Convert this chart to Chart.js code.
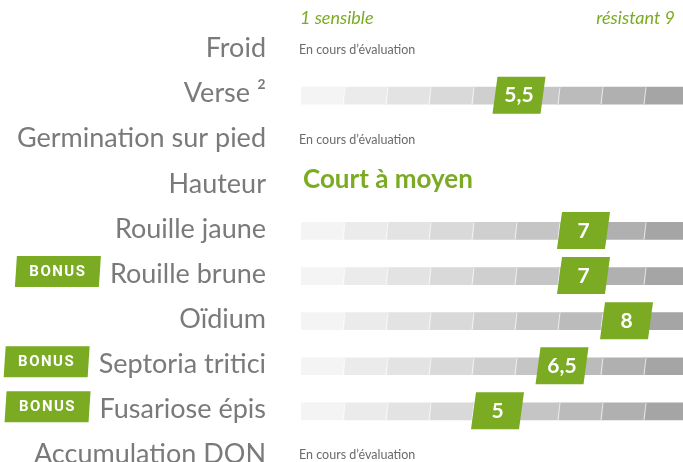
<!DOCTYPE html>
<html>
<head>
<meta charset="utf-8">
<script src="https://cdn.jsdelivr.net/npm/chart.js@4.4.1/dist/chart.umd.min.js"></script>
<style>
  html, body { margin: 0; padding: 0; background: #fff; overflow: hidden; }
  #wrap { width: 683px; height: 462px; overflow: hidden; }
</style>
</head>
<body>
<div id="wrap"><canvas id="noteChart" width="690" height="480"></canvas></div>
<script>
// rows, top to bottom
var criteres = ['Froid', 'Verse ²', 'Germination sur pied', 'Hauteur', 'Rouille jaune',
    'Rouille brune', 'Oïdium', 'Septoria tritici', 'Fusariose épis', 'Accumulation DON'];
// notes 1..9 (null = no gauge)
var notes = [null, 5.5, null, null, 7, 7, 8, 6.5, 5, null];
// text shown instead of a gauge
var commentaires = ['En cours d’évaluation', null, 'En cours d’évaluation', 'Court à moyen', null,
    null, null, null, null, 'En cours d’évaluation'];
var bonus = [false, false, false, false, false, true, false, true, true, false];
var echelle = ['1 sensible', 'résistant 9'];
var segments = [1, 2, 3, 4, 5, 6, 7, 8, 9];
var gris = ['#f4f4f4', '#ebebeb', '#e3e3e3', '#d9d9d9', '#cfcfcf', '#c5c5c5', '#bbbbbb', '#b0b0b0', '#a5a5a5'];

var VERT = '#7aab23';
var LABEL_FONT = '27px Lato';

// one dataset per segment of the gauge, stacked
var datasets = segments.map(function (s, k) {
    return {
        label: 'seg' + s,
        data: notes.map(function (n) { return n == null ? null : 1; }),
        backgroundColor: gris[k],
        borderWidth: 0,
        barThickness: 17
    };
});

function parallelogramme(ctx, x, y, w, h, slant) {
    ctx.beginPath();
    ctx.moveTo(x + slant, y);
    ctx.lineTo(x + w + slant, y);
    ctx.lineTo(x + w, y + h);
    ctx.lineTo(x, y + h);
    ctx.closePath();
    ctx.fill();
}

var decorPlugin = {
    id: 'decor',
    afterDatasetsDraw: function (chart) {
        var ctx = chart.ctx;
        var xs = chart.scales.x, ys = chart.scales.y;
        ctx.save();

        // slanted light separators between segments
        ctx.strokeStyle = 'rgba(255,255,255,0.7)';
        ctx.lineWidth = 1;
        notes.forEach(function (n, i) {
            if (n == null) return;
            var cy = ys.getPixelForValue(i);
            for (var k = 1; k < segments.length; k++) {
                var px = xs.getPixelForValue(k);
                ctx.beginPath();
                ctx.moveTo(px + 1, cy - 8.5);
                ctx.lineTo(px - 1, cy + 8.5);
                ctx.stroke();
            }
        });

        // score markers
        notes.forEach(function (n, i) {
            if (n == null) return;
            var cx = xs.getPixelForValue(n - 0.5) + 3;
            var cy = ys.getPixelForValue(i);
            ctx.fillStyle = VERT;
            parallelogramme(ctx, cx - 26.5, cy - 19, 48, 37, 5);
            ctx.fillStyle = '#fff';
            ctx.font = 'bold 21px Lato';
            ctx.textAlign = 'center';
            ctx.textBaseline = 'middle';
            ctx.fillText(String(n).replace('.', ','), cx, cy);
        });

        // text rows
        commentaires.forEach(function (c, i) {
            if (!c) return;
            var cy = ys.getPixelForValue(i);
            ctx.textAlign = 'left';
            ctx.textBaseline = 'alphabetic';
            if (c === 'Court à moyen') {
                ctx.fillStyle = VERT;
                ctx.font = 'bold 26px Lato';
                ctx.fillText(c, xs.left + 2, cy + 2);
            } else {
                ctx.fillStyle = '#6b6b6b';
                ctx.font = '12.5px Lato';
                ctx.fillText(c, xs.left - 2, cy + 3);
            }
        });

        // scale captions
        ctx.fillStyle = VERT;
        ctx.font = 'italic 18px Lato';
        ctx.textBaseline = 'alphabetic';
        ctx.textAlign = 'left';
        ctx.fillText(echelle[0], xs.left - 1, 24);
        ctx.textAlign = 'right';
        ctx.fillText(echelle[1], 675, 24);

        // BONUS badges
        var labelRight = ys.right - ys.options.ticks.padding;
        bonus.forEach(function (b, i) {
            if (!b) return;
            ctx.font = LABEL_FONT;
            var w = ctx.measureText(criteres[i]).width;
            var right = labelRight - w - 9;
            var cy = ys.getPixelForValue(i);
            ctx.fillStyle = VERT;
            parallelogramme(ctx, right - 86, cy - 20, 84, 31, 2);
            ctx.fillStyle = '#fff';
            ctx.font = 'bold 15px Roboto';
            ctx.textAlign = 'center';
            ctx.textBaseline = 'middle';
            if (ctx.letterSpacing !== undefined) ctx.letterSpacing = '1.5px';
            ctx.fillText('BONUS', right - 43, cy - 4);
            if (ctx.letterSpacing !== undefined) ctx.letterSpacing = '0px';
        });
        ctx.restore();
    }
};

new Chart(document.getElementById('noteChart').getContext('2d'), {
    type: 'bar',
    data: { labels: criteres, datasets: datasets },
    options: {
        indexAxis: 'y',
        responsive: false,
        animation: false,
        layout: { padding: { top: 28, bottom: 1, right: 2, left: 0 } },
        plugins: { legend: { display: false }, tooltip: { enabled: false } },
        scales: {
            x: { stacked: true, min: 0, max: 9, display: false },
            y: {
                stacked: true,
                grid: { display: false, drawTicks: false },
                border: { display: false },
                afterFit: function (scale) {
                    scale.width = 301;
                    // the label padding is horizontal only here
                    scale.paddingTop = 0;
                    scale.paddingBottom = 0;
                },
                ticks: {
                    padding: 35,
                    labelOffset: -2,
                    color: '#7a7a7a',
                    font: { family: 'Lato', size: 27 }
                }
            }
        }
    },
    plugins: [decorPlugin]
});
</script>
</body>
</html>
